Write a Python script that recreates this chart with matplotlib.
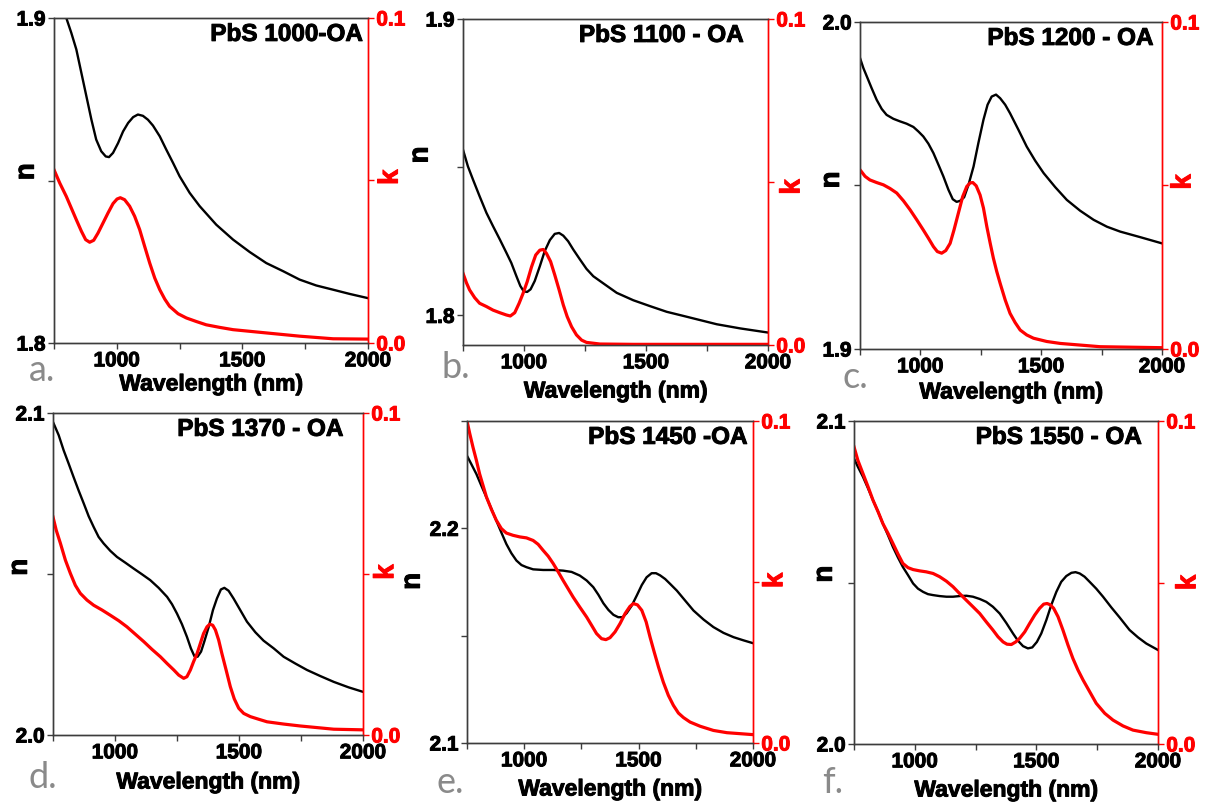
import matplotlib
matplotlib.use("Agg")
import matplotlib.pyplot as plt
import matplotlib.patheffects as pe
from matplotlib.ticker import MultipleLocator, FormatStrFormatter

plt.rcParams['font.family'] = ['Liberation Sans', 'DejaVu Sans']
plt.rcParams['font.weight'] = 'bold'

# ---- data (wavelength in nm) ----
wl_n_a = [750, 775, 799, 819, 839, 859, 879, 899, 918, 938, 956, 969, 985, 1005, 1025, 1045, 1065, 1084, 1104, 1124, 1144, 1171, 1197, 1224, 1250, 1290, 1330, 1396, 1463, 1529, 1595, 1662, 1728, 1794, 1861, 1927, 2000]
n_a = [1.912, 1.906, 1.900, 1.8954, 1.8903, 1.8831, 1.8759, 1.8687, 1.8626, 1.8590, 1.8574, 1.8572, 1.8585, 1.8615, 1.8651, 1.8677, 1.8695, 1.8703, 1.8699, 1.8687, 1.8669, 1.8636, 1.8595, 1.8554, 1.8513, 1.8462, 1.8421, 1.8364, 1.8318, 1.8280, 1.8246, 1.8221, 1.8195, 1.8177, 1.8164, 1.8151, 1.8138]
wl_k_a = [750, 773, 799, 819, 839, 859, 876, 892, 908, 925, 945, 965, 985, 1001, 1014, 1031, 1051, 1071, 1091, 1111, 1131, 1151, 1171, 1191, 1210, 1244, 1277, 1317, 1356, 1410, 1463, 1595, 1728, 1861, 2000]
k_a = [0.0533, 0.0492, 0.0451, 0.0415, 0.0379, 0.0344, 0.0318, 0.0310, 0.0316, 0.0338, 0.0369, 0.0400, 0.0429, 0.0443, 0.0447, 0.0441, 0.0421, 0.0390, 0.0349, 0.0297, 0.0246, 0.0200, 0.0164, 0.0135, 0.0113, 0.0090, 0.0077, 0.0066, 0.0056, 0.0048, 0.0041, 0.0031, 0.0021, 0.0013, 0.0012]

wl_n_b = [750, 770, 791, 818, 846, 873, 901, 928, 948, 969, 985, 999, 1013, 1027, 1044, 1065, 1085, 1106, 1126, 1144, 1161, 1181, 1202, 1229, 1256, 1284, 1325, 1380, 1448, 1517, 1585, 1654, 1722, 1790, 1886, 2000]
n_b = [1.8559, 1.8503, 1.8458, 1.8402, 1.8346, 1.8301, 1.8256, 1.8211, 1.8177, 1.8132, 1.8099, 1.8081, 1.8079, 1.8088, 1.8116, 1.8166, 1.8217, 1.8254, 1.8275, 1.8278, 1.8269, 1.8250, 1.8222, 1.8189, 1.8157, 1.8132, 1.8108, 1.8076, 1.8051, 1.8031, 1.8012, 1.7998, 1.7984, 1.7970, 1.7956, 1.7942]
wl_k_b = [750, 764, 777, 798, 818, 846, 873, 901, 928, 944, 962, 980, 996, 1013, 1031, 1048, 1065, 1079, 1092, 1109, 1126, 1144, 1161, 1177, 1195, 1215, 1236, 1256, 1311, 1448, 2000]
k_b = [0.0220, 0.0191, 0.0169, 0.0145, 0.0128, 0.0118, 0.0107, 0.0099, 0.0092, 0.0089, 0.0099, 0.0128, 0.0158, 0.0194, 0.0240, 0.0276, 0.0291, 0.0293, 0.0281, 0.0256, 0.0215, 0.0169, 0.0123, 0.0087, 0.0056, 0.0031, 0.0015, 0.0008, 0.0003, 0.0002, 0.0002]

wl_n_c = [750, 764, 778, 798, 819, 840, 860, 888, 916, 943, 971, 992, 1012, 1033, 1054, 1075, 1095, 1116, 1134, 1150, 1164, 1181, 1199, 1220, 1240, 1261, 1278, 1295, 1313, 1330, 1351, 1371, 1406, 1440, 1475, 1510, 1558, 1606, 1661, 1717, 1772, 1827, 1910, 2000]
n_c = [1.9890, 1.9859, 1.9834, 1.9798, 1.9762, 1.9734, 1.9716, 1.9704, 1.9696, 1.9689, 1.9679, 1.9665, 1.9650, 1.9628, 1.9599, 1.9563, 1.9528, 1.9487, 1.9458, 1.9450, 1.9453, 1.9464, 1.9502, 1.9558, 1.9630, 1.9701, 1.9747, 1.9772, 1.9778, 1.9767, 1.9747, 1.9721, 1.9670, 1.9619, 1.9576, 1.9538, 1.9495, 1.9456, 1.9423, 1.9395, 1.9374, 1.9359, 1.9342, 1.9323]
wl_k_c = [750, 771, 791, 819, 847, 874, 902, 930, 957, 985, 1012, 1033, 1054, 1070, 1088, 1105, 1123, 1139, 1157, 1175, 1192, 1206, 1217, 1231, 1247, 1261, 1275, 1289, 1302, 1316, 1330, 1351, 1371, 1392, 1413, 1440, 1468, 1523, 1579, 1744, 2000]
k_c = [0.0548, 0.0528, 0.0517, 0.0509, 0.0502, 0.0491, 0.0477, 0.0453, 0.0426, 0.0395, 0.0364, 0.0339, 0.0313, 0.0298, 0.0293, 0.0301, 0.0323, 0.0364, 0.0415, 0.0466, 0.0497, 0.0508, 0.0509, 0.0499, 0.0471, 0.0431, 0.0374, 0.0323, 0.0278, 0.0237, 0.0201, 0.0150, 0.0109, 0.0081, 0.0058, 0.0043, 0.0033, 0.0023, 0.0017, 0.0007, 0.0004]

wl_n_d = [750, 773, 793, 813, 833, 853, 874, 894, 914, 934, 954, 981, 1008, 1042, 1075, 1109, 1142, 1176, 1210, 1230, 1250, 1270, 1290, 1306, 1320, 1333, 1347, 1360, 1378, 1395, 1411, 1427, 1441, 1458, 1478, 1505, 1532, 1566, 1599, 1640, 1680, 1727, 1774, 1828, 1882, 1942, 2000]
n_d = [2.0972, 2.0931, 2.0884, 2.0843, 2.0801, 2.0760, 2.0719, 2.0679, 2.0646, 2.0615, 2.0595, 2.0572, 2.0553, 2.0535, 2.0517, 2.0499, 2.0481, 2.0457, 2.0429, 2.0406, 2.0377, 2.0344, 2.0305, 2.0269, 2.0245, 2.0243, 2.0259, 2.0290, 2.0336, 2.0388, 2.0424, 2.0452, 2.0457, 2.0448, 2.0424, 2.0388, 2.0352, 2.0319, 2.0293, 2.0269, 2.0243, 2.0222, 2.0202, 2.0183, 2.0165, 2.0148, 2.0134]
wl_k_d = [750, 763, 780, 800, 820, 840, 860, 887, 914, 948, 981, 1015, 1048, 1082, 1116, 1149, 1183, 1210, 1237, 1257, 1277, 1290, 1304, 1317, 1331, 1344, 1357, 1371, 1382, 1394, 1405, 1418, 1431, 1448, 1465, 1481, 1499, 1519, 1546, 1579, 1613, 1680, 1747, 1882, 2000]
k_d = [0.0677, 0.0636, 0.0595, 0.0543, 0.0502, 0.0465, 0.0440, 0.0419, 0.0403, 0.0388, 0.0372, 0.0355, 0.0336, 0.0313, 0.0290, 0.0266, 0.0243, 0.0222, 0.0202, 0.0186, 0.0176, 0.0181, 0.0202, 0.0228, 0.0253, 0.0284, 0.0315, 0.0336, 0.0344, 0.0341, 0.0326, 0.0295, 0.0253, 0.0202, 0.0150, 0.0112, 0.0083, 0.0067, 0.0057, 0.0049, 0.0041, 0.0034, 0.0028, 0.0018, 0.0016]

wl_n_e = [750, 769, 791, 813, 835, 857, 878, 900, 922, 944, 966, 988, 1010, 1039, 1083, 1127, 1170, 1207, 1243, 1273, 1302, 1324, 1346, 1368, 1390, 1411, 1430, 1448, 1470, 1492, 1514, 1535, 1557, 1576, 1594, 1616, 1638, 1667, 1703, 1740, 1784, 1827, 1871, 1915, 1959, 2000]
n_e = [2.2338, 2.2299, 2.2253, 2.2198, 2.2144, 2.2090, 2.2036, 2.1981, 2.1927, 2.1884, 2.1850, 2.1829, 2.1819, 2.1809, 2.1806, 2.1806, 2.1803, 2.1797, 2.1780, 2.1757, 2.1726, 2.1691, 2.1651, 2.1620, 2.1597, 2.1586, 2.1586, 2.1605, 2.1640, 2.1687, 2.1736, 2.1772, 2.1791, 2.1791, 2.1781, 2.1764, 2.1741, 2.1710, 2.1664, 2.1617, 2.1575, 2.1540, 2.1513, 2.1493, 2.1478, 2.1465]
wl_k_e = [750, 762, 776, 791, 805, 820, 835, 857, 878, 900, 922, 951, 981, 1010, 1039, 1061, 1083, 1105, 1127, 1149, 1170, 1192, 1214, 1243, 1273, 1295, 1316, 1338, 1357, 1375, 1397, 1419, 1441, 1462, 1477, 1495, 1514, 1533, 1550, 1568, 1587, 1608, 1630, 1652, 1674, 1696, 1725, 1769, 1827, 1886, 2000]
k_e = [0.1000, 0.0961, 0.0919, 0.0878, 0.0836, 0.0800, 0.0764, 0.0725, 0.0692, 0.0666, 0.0652, 0.0645, 0.0640, 0.0637, 0.0629, 0.0617, 0.0598, 0.0580, 0.0557, 0.0531, 0.0505, 0.0479, 0.0453, 0.0422, 0.0391, 0.0365, 0.0340, 0.0324, 0.0321, 0.0327, 0.0345, 0.0371, 0.0402, 0.0424, 0.0433, 0.0429, 0.0412, 0.0376, 0.0329, 0.0283, 0.0236, 0.0189, 0.0148, 0.0117, 0.0093, 0.0079, 0.0065, 0.0052, 0.0039, 0.0032, 0.0026]

wl_n_f = [750, 766, 787, 808, 828, 849, 869, 890, 910, 931, 951, 972, 993, 1013, 1034, 1054, 1075, 1102, 1130, 1157, 1184, 1212, 1239, 1267, 1294, 1321, 1349, 1376, 1404, 1424, 1445, 1465, 1483, 1502, 1520, 1541, 1561, 1582, 1602, 1623, 1644, 1661, 1678, 1698, 1719, 1746, 1774, 1808, 1842, 1883, 1918, 1952, 2000]
n_f = [2.0884, 2.0858, 2.0827, 2.0791, 2.0755, 2.0719, 2.0682, 2.0646, 2.0610, 2.0577, 2.0548, 2.0523, 2.0497, 2.0481, 2.0471, 2.0464, 2.0461, 2.0458, 2.0456, 2.0456, 2.0458, 2.0459, 2.0456, 2.0449, 2.0440, 2.0425, 2.0404, 2.0375, 2.0342, 2.0320, 2.0303, 2.0296, 2.0299, 2.0316, 2.0342, 2.0384, 2.0430, 2.0471, 2.0502, 2.0520, 2.0530, 2.0532, 2.0528, 2.0518, 2.0502, 2.0481, 2.0456, 2.0423, 2.0392, 2.0353, 2.0330, 2.0311, 2.0291]
wl_k_f = [750, 766, 787, 808, 828, 849, 869, 890, 910, 931, 951, 972, 993, 1020, 1047, 1075, 1102, 1130, 1157, 1184, 1212, 1239, 1267, 1294, 1321, 1342, 1363, 1379, 1397, 1415, 1431, 1452, 1472, 1493, 1513, 1530, 1544, 1557, 1571, 1589, 1609, 1630, 1650, 1671, 1692, 1719, 1746, 1781, 1815, 1856, 1897, 1952, 2000]
k_f = [0.0920, 0.0878, 0.0837, 0.0796, 0.0755, 0.0719, 0.0682, 0.0652, 0.0621, 0.0588, 0.0559, 0.0546, 0.0540, 0.0536, 0.0533, 0.0528, 0.0518, 0.0504, 0.0487, 0.0466, 0.0445, 0.0425, 0.0404, 0.0378, 0.0353, 0.0332, 0.0316, 0.0309, 0.0308, 0.0316, 0.0327, 0.0347, 0.0373, 0.0399, 0.0420, 0.0433, 0.0435, 0.0431, 0.0420, 0.0394, 0.0353, 0.0306, 0.0265, 0.0229, 0.0198, 0.0162, 0.0126, 0.0095, 0.0074, 0.0056, 0.0043, 0.0035, 0.0030]

titles = ['PbS 1000-OA', 'PbS 1100 - OA', 'PbS 1200 - OA', 'PbS 1370 - OA', 'PbS 1450 -OA', 'PbS 1550 - OA']
letters = ['a.', 'b.', 'c.', 'd.', 'e.', 'f.']
n_limits = [(1.8, 1.9), (1.79, 1.9), (1.9, 2.0), (2.0, 2.1), (2.1, 2.25), (2.0, 2.1)]
n_ticks = [[1.8, 1.9], [1.8, 1.9], [1.9, 2.0], [2.0, 2.1], [2.1, 2.2], [2.0, 2.1]]
k_limits = (0.0, 0.1)

# ---- layout (figure pixels 1207x805) ----
W, H = 1207, 805
# left, right, top, bottom of each plot frame in pixels
frames = [(54, 368, 18, 343), (463, 768, 19, 345), (860, 1162, 22, 349),
          (53, 363, 413, 735), (467, 753, 421, 743), (854, 1158, 421, 744)]
title_x = [0.983, 0.919, 0.971, 0.936, 0.980, 0.946]
n_lab = [(-0.087, 0.527), (-0.139, 0.583), (-0.093, 0.517), (-0.107, 0.521), (-0.19, 0.502), (-0.096, 0.526)]
k_lab = [(1.072, 0.51), (1.08, 0.485), (1.071, 0.511), (1.075, 0.506), (1.078, 0.505), (1.10, 0.50)]
letter_pos = [(29, 381), (442, 378), (843, 388), (28, 788), (437, 793), (822, 793)]
wl_lab_off = [41, 46, 43, 47, 46, 46]

n_data = [(wl_n_a, n_a), (wl_n_b, n_b), (wl_n_c, n_c), (wl_n_d, n_d), (wl_n_e, n_e), (wl_n_f, n_f)]
k_data = [(wl_k_a, k_a), (wl_k_b, k_b), (wl_k_c, k_c), (wl_k_d, k_d), (wl_k_e, k_e), (wl_k_f, k_f)]

RED = '#ff0000'
FRAME = '#3c3c3c'


def heavy(color):
    # thicken the bold glyphs a little, like the original rendering
    return [pe.withStroke(linewidth=0.7, foreground=color)]


fig = plt.figure(figsize=(W / 100, H / 100), dpi=100)

for i in range(6):
    l, r, t, b = frames[i]
    ax = fig.add_axes([l / W, 1 - b / H, (r - l) / W, (b - t) / H])
    axk = ax.twinx()

    ax.plot(*n_data[i], color='black', lw=1.7, solid_joinstyle='round')
    axk.plot(*k_data[i], color=RED, lw=2.3, solid_joinstyle='round')

    ax.set_xlim(750, 2000)
    ax.set_ylim(*n_limits[i])
    axk.set_ylim(*k_limits)

    ax.set_xticks([1000, 1500, 2000])
    ax.xaxis.set_minor_locator(MultipleLocator(250))
    ax.set_yticks(n_ticks[i])
    ax.yaxis.set_minor_locator(MultipleLocator(0.05))
    axk.set_yticks([0.0, 0.1])
    axk.yaxis.set_minor_locator(MultipleLocator(0.05))
    ax.yaxis.set_major_formatter(FormatStrFormatter('%.1f'))
    axk.yaxis.set_major_formatter(FormatStrFormatter('%.1f'))

    for a in (ax, axk):
        for s in a.spines.values():
            s.set_color(FRAME)
            s.set_linewidth(1.0)
        a.spines['right'].set_color(RED)
    ax.tick_params(which='both', direction='out', length=4, width=1, color=FRAME,
                   labelsize=15, pad=2)
    axk.tick_params(which='both', direction='out', length=4, width=1, color=RED,
                    labelcolor=RED, labelsize=15, pad=2)
    for lab in ax.get_xticklabels() + ax.get_yticklabels():
        lab.set_path_effects(heavy('black'))
    for lab in axk.get_yticklabels():
        lab.set_path_effects(heavy(RED))

    ax.text(title_x[i], 0.985, titles[i], transform=ax.transAxes, ha='right', va='top',
            fontsize=17.5, fontweight='bold', path_effects=heavy('black'))
    ax.text(n_lab[i][0], n_lab[i][1], 'n', transform=ax.transAxes, rotation=90,
            ha='center', va='center', fontsize=20, fontweight='bold', path_effects=heavy('black'))
    ax.text(k_lab[i][0], k_lab[i][1], 'k', transform=ax.transAxes, rotation=90,
            ha='center', va='center', fontsize=20, fontweight='bold', color=RED,
            path_effects=heavy(RED))
    ax.text(0.5, -wl_lab_off[i] / (b - t), 'Wavelength (nm)', transform=ax.transAxes,
            ha='center', va='center', fontsize=16.5, fontweight='bold', path_effects=heavy('black'))

    fig.text(letter_pos[i][0] / W, 1 - letter_pos[i][1] / H, letters[i], ha='left',
             va='baseline', fontsize=26, color='#8a8a8a', fontweight='normal',
             family=['Lato', 'DejaVu Sans'])

fig.savefig('out.png', dpi=100)
